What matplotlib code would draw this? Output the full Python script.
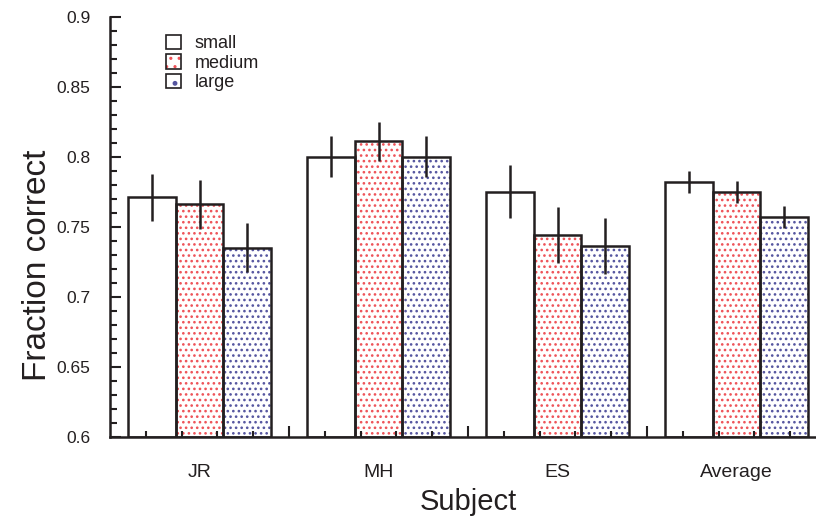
import numpy as np
import matplotlib.pyplot as plt
from matplotlib.patches import Patch
from matplotlib.legend_handler import HandlerTuple

plt.rcParams['font.family'] = ['Liberation Sans', 'DejaVu Sans']
plt.rcParams['hatch.linewidth'] = 1.1

# --- data ---
subjects = ['JR', 'MH', 'ES', 'Average']
sizes = ['small', 'medium', 'large']
small = [0.771, 0.800, 0.775, 0.782]
medium = [0.766, 0.811, 0.744, 0.775]
large = [0.735, 0.800, 0.736, 0.757]
small_err = [0.017, 0.0145, 0.019, 0.008]
medium_err = [0.0175, 0.014, 0.020, 0.0078]
large_err = [0.0175, 0.0145, 0.020, 0.008]

INK = '#231f20'
RED = '#ee5258'
BLUE = '#55559f'

fig = plt.figure(figsize=(8.16, 5.18), dpi=100)
# axes run a bit past the right edge of the picture, like the original crop
ax = fig.add_axes([110 / 816, 81.3 / 518, 716 / 816, 420 / 518])

x = np.arange(len(subjects))
w = 0.2655
lw = 1.8
series = [
    (small, small_err, None, None),
    (medium, medium_err, '...', RED),
    (large, large_err, '...', BLUE),
]
for k, (vals, errs, hatch, hcol) in enumerate(series):
    pos = x + (k - 1) * w
    bottom = 0.6
    heights = np.array(vals) - bottom
    if hatch:
        ax.bar(pos, heights, w, bottom=bottom, color='white', edgecolor=hcol,
               hatch=hatch, linewidth=0, zorder=1)
    ax.bar(pos, heights, w, bottom=bottom, fill=False, edgecolor=INK,
           linewidth=lw, zorder=2)
    ax.errorbar(pos, vals, yerr=errs, fmt='none', ecolor=INK,
                elinewidth=lw, capsize=0, zorder=3)

ax.set_xlim(-0.5, 3.5)
ax.set_ylim(0.6, 0.9)
ax.spines['top'].set_visible(False)
ax.spines['right'].set_visible(False)
for s in ['left', 'bottom']:
    ax.spines[s].set_linewidth(lw)
    ax.spines[s].set_color(INK)

ax.set_yticks(np.arange(0.6, 0.9001, 0.05))
ax.set_yticklabels(['0.6', '0.65', '0.7', '0.75', '0.8', '0.85', '0.9'])
ax.set_yticks(np.arange(0.6, 0.9001, 0.01), minor=True)
ax.tick_params(axis='y', which='major', direction='in', length=8, width=1.5,
               labelsize=12.5, pad=14, color=INK, labelcolor=INK)
ax.tick_params(axis='y', which='minor', direction='in', length=5, width=1.5,
               color=INK)

ax.set_xticks(x)
ax.set_xticklabels(subjects)
minor_x = [t for t in np.arange(-0.3, 3.5, 0.2)
           if min(abs((t - 0.5) % 1), abs((t - 0.5) % 1 - 1)) > 0.05]
ax.set_xticks(minor_x, minor=True)
ax.tick_params(axis='x', which='major', length=0, labelsize=14, pad=20,
               labelcolor=INK)
ax.tick_params(axis='x', which='minor', direction='in', length=4, width=1.5,
               color=INK)
sec = ax.secondary_xaxis('bottom')
sec.set_xticks(x[:-1] + 0.5)
sec.set_xticklabels([])
sec.tick_params(direction='in', length=8, width=1.5, color=INK)
sec.spines['bottom'].set_visible(False)

ax.set_xlabel('Subject', fontsize=21, labelpad=5, color=INK)
ax.set_ylabel('Fraction correct', fontsize=24, color=INK)
ax.yaxis.set_label_coords(-0.08, 0.408)

box = dict(facecolor='none', edgecolor=INK, linewidth=1.2)
handles = [
    Patch(facecolor='white', edgecolor=INK, linewidth=1.2),
    (Patch(facecolor='white', edgecolor=RED, hatch='..', linewidth=0), Patch(**box)),
    (Patch(facecolor='white', edgecolor=BLUE, hatch='.', linewidth=0), Patch(**box)),
]
leg = ax.legend(handles, sizes, loc='upper left',
                bbox_to_anchor=(157 / 816, 1 - 26 / 518),
                bbox_transform=fig.transFigure, frameon=False, fontsize=13,
                handlelength=0.85, handleheight=0.85, handletextpad=0.75,
                labelspacing=0.1, borderpad=0,
                handler_map={tuple: HandlerTuple(ndivide=1, pad=0)})
for t in leg.get_texts():
    t.set_color(INK)

fig.savefig('out.png', dpi=100)
